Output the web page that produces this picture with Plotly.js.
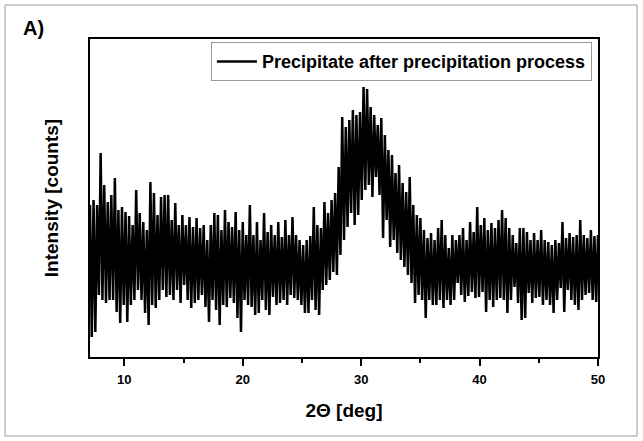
<!DOCTYPE html>
<html>
<head>
<meta charset="utf-8">
<script src="https://cdn.plot.ly/plotly-3.0.1.min.js"></script>
<style>html,body{margin:0;padding:0;background:#fff;}#chart{width:643px;height:441px;}</style>
</head>
<body>
<div id="chart"></div>
<script>
// 2-theta sampling of the scan (deg)
const thetaStart = 7.1;
const thetaStep = 0.15;
// Intensity (arbitrary counts)
const intensity = [
152,20,157,25,152,62,204,57,172,54,
155,57,162,57,179,45,147,34,150,52,
145,35,141,52,132,57,167,67,144,57,
135,44,127,32,175,52,164,49,142,57,
160,67,162,60,162,62,137,57,154,67,
132,54,142,72,132,57,140,49,130,54,
139,57,129,62,132,50,117,35,132,57,
144,47,142,32,127,52,147,50,135,59,
130,54,145,39,127,25,135,57,122,52,
152,50,122,42,135,44,117,57,144,47,
125,42,132,60,122,52,135,54,120,57,
137,52,122,62,140,59,122,57,117,52,
112,44,117,44,121,57,150,47,132,42,
129,67,155,72,144,77,157,85,164,82,
190,102,240,117,230,130,237,144,247,132,
242,142,245,157,270,167,268,172,250,160,
242,180,232,162,239,119,222,137,207,110,
202,117,184,104,192,97,174,90,165,82,
180,74,152,54,142,62,139,57,127,39,
119,57,124,52,117,52,129,57,137,49,
122,57,109,52,122,57,117,74,122,62,
129,55,117,61,135,65,125,59,150,60,
132,65,139,45,127,57,134,50,129,57,
137,59,147,57,139,44,129,57,122,70,
114,54,129,37,129,39,125,64,117,54,
124,59,117,60,127,52,117,57,115,52,
112,44,117,57,114,69,135,45,119,67,
124,57,120,52,122,47,137,57,122,62,
119,64,127,57,121,55,122
];
const seriesName = 'Precipitate after precipitation process';
const xTickVals = [10, 20, 30, 40, 50];
const xTickText = ['10', '20', '30', '40', '50'];

const FONT = 'Liberation Sans, Arial, sans-serif';

const trace = {
  type: 'scatter',
  mode: 'lines',
  x0: thetaStart,
  dx: thetaStep,
  y: intensity,
  name: seriesName,
  line: {color: '#000', width: 2.5},
  showlegend: true
};

const layout = {
  width: 643,
  height: 441,
  margin: {l: 90, r: 45, t: 39, b: 84},
  paper_bgcolor: '#fff',
  plot_bgcolor: '#fff',
  font: {family: FONT, color: '#000'},
  showlegend: true,
  legend: {
    x: 0.988, xanchor: 'right',
    y: 0.99, yanchor: 'top',
    bordercolor: '#999', borderwidth: 1,
    bgcolor: '#fff',
    font: {family: FONT, size: 18, color: '#000', weight: 700},
    itemwidth: 40,
    tracegroupgap: 0
  },
  xaxis: {
    range: [7.1, 50],
    tickmode: 'array',
    tickvals: xTickVals,
    ticktext: xTickText,
    ticks: 'outside',
    ticklen: 7,
    tickwidth: 2,
    tickcolor: '#000',
    ticklabelstandoff: 2,
    minor: {ticks: 'outside', dtick: 5, tick0: 0, ticklen: 4, tickwidth: 2, tickcolor: '#000', showgrid: false},
    showline: true, linecolor: '#000', linewidth: 2, mirror: true,
    showgrid: false, zeroline: false,
    tickfont: {family: FONT, size: 13, color: '#000', weight: 700},
    title: {text: '2Θ [deg]', font: {family: FONT, size: 19, color: '#000', weight: 700}, standoff: 18}
  },
  yaxis: {
    range: [0, 318],
    showticklabels: false,
    ticks: '',
    showline: true, linecolor: '#000', linewidth: 2, mirror: true,
    showgrid: false, zeroline: false,
    title: {text: 'Intensity [counts]', font: {family: FONT, size: 19, color: '#000', weight: 700}, standoff: 24}
  },
  annotations: [
    {text: 'A)', xref: 'paper', yref: 'paper', x: (33 - 90) / 508, y: (357 - 28) / 318,
     xanchor: 'center', yanchor: 'middle', showarrow: false,
     font: {family: FONT, size: 20, color: '#000', weight: 700}}
  ],
  shapes: [
    {type: 'rect', xref: 'paper', yref: 'paper',
     x0: (5 - 90) / 508, x1: (637 - 90) / 508, y0: (357 - 436) / 318, y1: (357 - 5) / 318,
     line: {color: '#999', width: 1}, fillcolor: 'rgba(0,0,0,0)', layer: 'below'}
  ]
};

Plotly.newPlot('chart', [trace], layout, {displayModeBar: false, staticPlot: true});
</script>
</body>
</html>
